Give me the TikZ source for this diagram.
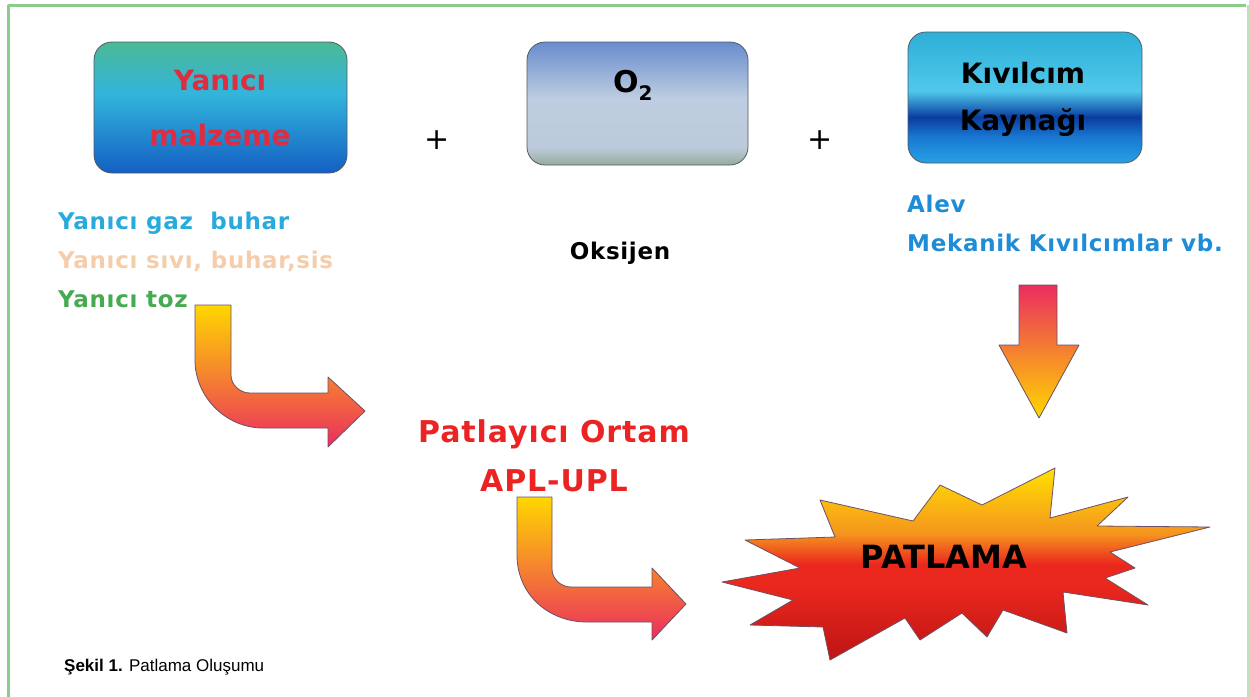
\documentclass[tikz,border=0pt]{standalone}
\usepackage{fontspec}
\setmainfont{DejaVu Sans}
\newfontfamily\capfont{Liberation Sans}
\newfontfamily\lblfont[LetterSpace=3]{DejaVu Sans}
\definecolor{frame}{RGB}{140,205,140}
\definecolor{frameR}{RGB}{185,228,185}
\definecolor{boxline}{RGB}{80,90,100}
\definecolor{arrowline}{RGB}{110,80,100}
\definecolor{aTop}{RGB}{75,185,150}
\definecolor{aMid}{RGB}{50,180,220}
\definecolor{aBot}{RGB}{20,95,195}
\definecolor{bTop}{RGB}{105,140,205}
\definecolor{bMid}{RGB}{190,205,225}
\definecolor{bLow}{RGB}{188,202,218}
\definecolor{bBot}{RGB}{150,170,155}
\definecolor{cTop}{RGB}{45,175,215}
\definecolor{cMid}{RGB}{80,200,235}
\definecolor{cDark}{RGB}{10,60,160}
\definecolor{cLow}{RGB}{25,120,210}
\definecolor{cBot}{RGB}{40,160,230}
\definecolor{sTop}{RGB}{255,225,0}
\definecolor{sOr}{RGB}{245,150,30}
\definecolor{sRed}{RGB}{235,40,30}
\definecolor{sBot}{RGB}{190,20,20}
\definecolor{yel}{RGB}{255,215,0}
\definecolor{org}{RGB}{245,120,40}
\definecolor{pnk}{RGB}{235,45,95}
\definecolor{txtRed}{RGB}{222,45,65}
\definecolor{gasBlue}{RGB}{40,170,220}
\definecolor{liqBeige}{RGB}{245,205,170}
\definecolor{dustGreen}{RGB}{70,170,80}
\definecolor{alevBlue}{RGB}{30,140,215}
\definecolor{patRed}{RGB}{235,35,35}
\pgfdeclareverticalshading{boxA}{100bp}{color(0bp)=(aBot); color(25bp)=(aBot); color(55bp)=(aMid); color(75bp)=(aTop); color(100bp)=(aTop)}
\pgfdeclareverticalshading{boxB}{100bp}{color(0bp)=(bBot); color(25bp)=(bBot); color(32bp)=(bLow); color(52bp)=(bMid); color(75bp)=(bTop); color(100bp)=(bTop)}
\pgfdeclareverticalshading{boxC}{100bp}{color(0bp)=(cBot); color(25bp)=(cBot); color(35bp)=(cLow); color(42.5bp)=(cDark); color(52.5bp)=(cMid); color(75bp)=(cTop); color(100bp)=(cTop)}
\pgfdeclareverticalshading{starS}{100bp}{color(0bp)=(sBot); color(25bp)=(sBot); color(45bp)=(sRed); color(50bp)=(sRed); color(58bp)=(sOr); color(75bp)=(sTop); color(100bp)=(sTop)}
\begin{document}
\begin{tikzpicture}[x=1pt,y=-1pt,line join=round,
  lbl/.style={font=\lblfont\fontsize{23}{26}\selectfont\bfseries,inner sep=0pt,anchor=base west},
  boxtxt/.style={font=\fontsize{28}{34}\selectfont\bfseries,inner sep=0pt,anchor=base},
  boxshape/.style={shade,draw=boxline,line width=0.8pt,rounded corners=18pt,inner sep=0pt},
  blockarrow/.style={draw=arrowline,line width=0.8pt}]
\useasboundingbox (0,0) rectangle (1249,696);
% frame
\draw[frame,line width=3pt] (8,700) -- (8,5.5) -- (1246,5.5);
\draw[frameR,line width=2pt] (1247.5,5) -- (1247.5,700);
% top boxes
\node[boxshape,shading=boxA,minimum width=253pt,minimum height=131pt] (b1) at (220.5,107.5) {};
\node[boxshape,shading=boxB,minimum width=221pt,minimum height=123pt] (b2) at (637.5,103.5) {};
\node[boxshape,shading=boxC,minimum width=234pt,minimum height=131pt] (b3) at (1025,97.5) {};
\node[boxtxt,text=txtRed] (b1a) at (220,90) {Yanıcı};
\node[boxtxt,text=txtRed] (b1b) at (220,145) {malzeme};
\node[font=\fontsize{30}{34}\selectfont\bfseries,inner sep=0pt,anchor=base west] (b2a) at (613,92) {O\raisebox{-0.28em}{\fontsize{20}{22}\selectfont 2}};
\node[boxtxt,text=black] (b3a) at (1023,83) {Kıvılcım};
\node[boxtxt,text=black] (b3b) at (1023,130) {Kaynağı};
% plus signs
\node[font=\fontsize{30}{34}\selectfont,inner sep=0pt] (p1) at (437,140) {+};
\node[font=\fontsize{30}{34}\selectfont,inner sep=0pt] (p2) at (820,140) {+};
% labels
\node[lbl,text=gasBlue] (l1) at (58,229) {Yanıcı gaz \ buhar};
\node[lbl,text=liqBeige] (l2) at (58,268) {Yanıcı sıvı, buhar,sis};
\node[lbl,text=dustGreen] (l3) at (58,307) {Yanıcı toz};
\node[lbl,text=black,anchor=base] (ox) at (620,259) {Oksijen};
\node[lbl,text=alevBlue] (al) at (907,212) {Alev};
\node[lbl,text=alevBlue] (mk) at (907,251) {Mekanik Kıvılcımlar vb.};
\node[font=\lblfont\fontsize{30}{36}\selectfont\bfseries,text=patRed,inner sep=0pt,anchor=base] (po) at (554,442) {Patlayıcı Ortam};
\node[font=\lblfont\fontsize{30}{36}\selectfont\bfseries,text=patRed,inner sep=0pt,anchor=base] (pu) at (554,491) {APL-UPL};
% bent arrow 1
\shade[blockarrow,top color=yel,middle color=org,bottom color=pnk]
  (195,305) -- (195,360) .. controls (195,397) and (226,428) .. (263,428)
  -- (328,428) -- (328,447) -- (365,411) -- (328,377) -- (328,393)
  -- (250,393) .. controls (240,393) and (231,385) .. (231,375) -- (231,305) -- cycle;
% bent arrow 2
\shade[blockarrow,top color=yel,middle color=org,bottom color=pnk]
  (517,497) -- (517,555) .. controls (517,594) and (548,622) .. (587,622)
  -- (652,622) -- (652,640) -- (686,604) -- (652,568) -- (652,587)
  -- (571,587) .. controls (561,587) and (552,579) .. (552,569) -- (552,497) -- cycle;
% down arrow
\shade[blockarrow,top color=pnk,middle color=org,bottom color=yel]
  (1019,285) -- (1057,285) -- (1057,345) -- (1079,345) -- (1039,418)
  -- (999,345) -- (1019,345) -- cycle;
% explosion
\shade[blockarrow,shading=starS]
  (722,582) -- (800,568) -- (745,540) -- (835,537) -- (820,500) -- (913,521)
  -- (940,485) -- (982,505) -- (1055,468) -- (1050,518) -- (1128,497)
  -- (1097,526) -- (1210,527) -- (1110,552) -- (1135,568) -- (1105,578)
  -- (1148,605) -- (1063,592) -- (1067,633) -- (1003,610) -- (987,637)
  -- (962,613) -- (920,640) -- (905,618) -- (830,660) -- (823,627)
  -- (750,625) -- (793,600) -- cycle;
\node[font=\fontsize{32}{36}\selectfont\bfseries,inner sep=0pt,anchor=base] (pt) at (944,568) {PATLAMA};
% caption
\node[font=\capfont\fontsize{17}{20}\selectfont,inner sep=0pt,anchor=base west] (cap) at (64,671) {\textbf{Şekil 1.} Patlama Oluşumu};
\end{tikzpicture}
\end{document}
